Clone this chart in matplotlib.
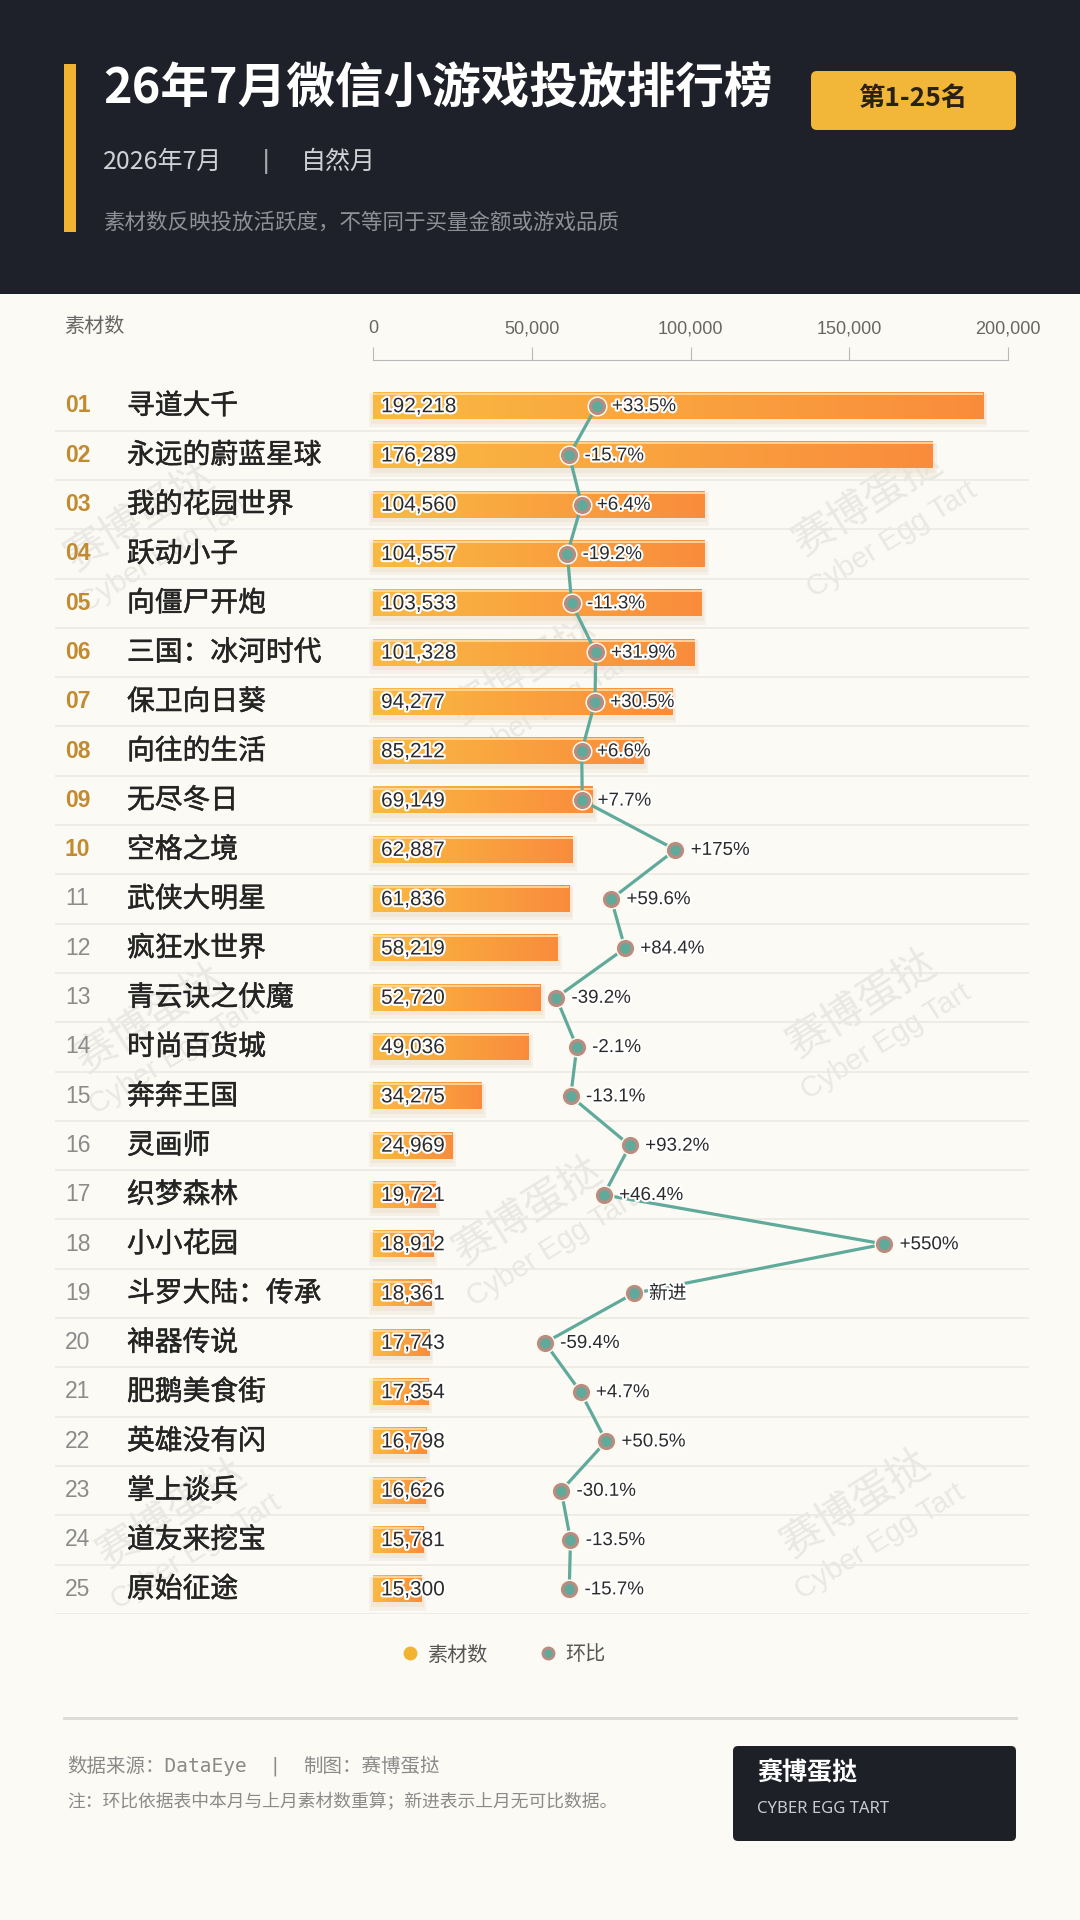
import numpy as np
import matplotlib
matplotlib.use("Agg")
import matplotlib.pyplot as plt
import matplotlib.patheffects as pe
from matplotlib.patches import Rectangle, FancyBboxPatch
from matplotlib.lines import Line2D
from matplotlib.colors import LinearSegmentedColormap
from matplotlib.transforms import blended_transform_factory

plt.rcParams["font.family"] = ["Noto Sans CJK SC", "DejaVu Sans"]

# ---------------------------------------------------------------- data
names = ["寻道大千", "永远的蔚蓝星球", "我的花园世界", "跃动小子", "向僵尸开炮",
         "三国：冰河时代", "保卫向日葵", "向往的生活", "无尽冬日", "空格之境",
         "武侠大明星", "疯狂水世界", "青云诀之伏魔", "时尚百货城", "奔奔王国",
         "灵画师", "织梦森林", "小小花园", "斗罗大陆：传承", "神器传说",
         "肥鹅美食街", "英雄没有闪", "掌上谈兵", "道友来挖宝", "原始征途"]
counts = [192218, 176289, 104560, 104557, 103533, 101328, 94277, 85212, 69149, 62887,
          61836, 58219, 52720, 49036, 34275, 24969, 19721, 18912, 18361, 17743,
          17354, 16798, 16626, 15781, 15300]
# month-over-month change in %, None = new entry
mom = [33.5, -15.7, 6.4, -19.2, -11.3, 31.9, 30.5, 6.6, 7.7, 175,
       59.6, 84.4, -39.2, -2.1, -13.1, 93.2, 46.4, 550, None, -59.4,
       4.7, 50.5, -30.1, -13.5, -15.7]
axis_ticks = [0, 50000, 100000, 150000, 200000]
NEW_POS = 100  # where a "新进" point sits on the change scale

title = "26年7月微信小游戏投放排行榜"
badge = "第1-25名"
period = "2026年7月"
period_type = "自然月"
note_top = "素材数反映投放活跃度，不等同于买量金额或游戏品质"
source = "数据来源：DataEye"
maker = "制图：赛博蛋挞"
note_bottom = "注：环比依据表中本月与上月素材数重算；新进表示上月无可比数据。"

# ---------------------------------------------------------------- colours
BG = "#fbfaf4"
DARK = "#1f212a"
GOLD = "#f0b432"
TEAL = "#60aa9b"
TAUPE = "#b88c80"
TEXT = "#242424"

W, H = 1080, 1920


def fx(px):
    return px / W


def fy(py):
    return 1 - py / H


def rect(x0, y0, x1, y1, color, r=0, z=-5):
    if r:
        p = FancyBboxPatch((fx(x0), fy(y1)), (x1 - x0) / W, (y1 - y0) / H,
                           boxstyle=f"round,pad=0,rounding_size={r / W}",
                           mutation_aspect=W / H, transform=fig.transFigure,
                           facecolor=color, edgecolor="none", zorder=z)
    else:
        p = Rectangle((fx(x0), fy(y1)), (x1 - x0) / W, (y1 - y0) / H,
                      transform=fig.transFigure, facecolor=color,
                      edgecolor="none", zorder=z)
    fig.patches.append(p)


fig = plt.figure(figsize=(W / 100, H / 100), dpi=100, facecolor=BG)

# ---------------------------------------------------------------- header
rect(0, 0, W, 294, DARK)
rect(64, 64, 76, 232, GOLD, z=-4)
fig.text(fx(103), fy(89), title, fontsize=35, weight="bold", color="white",
         va="center", ha="left")
rect(811, 71, 1016, 130, "#f2b739", r=6, z=-4)
fig.text(fx(913), fy(99), badge, fontsize=19, weight="bold", color="#2a2116",
         va="center", ha="center")
fig.text(fx(103), fy(162), period, fontsize=18, color="#d0d1d5", va="center")
fig.text(fx(262), fy(162), "|", fontsize=18, color="#a8a9ae", va="center",
         family="DejaVu Sans")
fig.text(fx(301), fy(162), period_type, fontsize=18, color="#d0d1d5", va="center")
fig.text(fx(103), fy(223), note_top, fontsize=15.5, color="#8e9097", va="center")

# ---------------------------------------------------------------- watermarks
wm_spots = [(140, 518), (868, 503), (525, 672), (150, 1020), (862, 1005),
            (528, 1212), (172, 1515), (856, 1505)]
for (wx, wy) in wm_spots:
    fig.text(fx(wx), fy(wy), "赛博蛋挞", fontsize=30, color="#eae8e2",
             rotation=32, rotation_mode="anchor", ha="center", va="center",
             zorder=-3)
    fig.text(fx(wx + 24), fy(wy + 37), "Cyber Egg Tart", fontsize=21,
             color="#eae8e2", rotation=32, rotation_mode="anchor",
             ha="center", va="center", family="Liberation Sans", zorder=-3)

# ---------------------------------------------------------------- main panel
n = len(names)
rows = np.arange(n)
ROW_PX, ROW0_PX = 49.3, 406
X0_PX, X200_PX = 373, 1008
AX_L, AX_R = 55, 1029
ax_top = ROW0_PX - ROW_PX / 2
ax_bot = ROW0_PX + (n - 0.5) * ROW_PX
ax = fig.add_axes([fx(AX_L), fy(ax_bot), (AX_R - AX_L) / W, (ax_bot - ax_top) / H])
per_px = axis_ticks[-1] / (X200_PX - X0_PX)
xlim = (-(X0_PX - AX_L) * per_px, (AX_R - X0_PX) * per_px)
ax.axis("off")

# change scale: 0 % at 578 px, 0.557 px per %
ZERO_PX, PX_PER_PCT = 578, 0.557
ax2 = ax.twiny()
ax2.set_xlim((AX_L - ZERO_PX) / PX_PER_PCT, (AX_R - ZERO_PX) / PX_PER_PCT)
ax2.axis("off")

tr = blended_transform_factory(fig.transFigure, ax.transData)

for i in rows:
    ax.axhline(i + 0.5, color="#ebe8e1", lw=1.1, zorder=0.5)

bh = 0.53
# soft shadow, two faint layers
cnt = np.array(counts)
ax.barh(rows + 0.09, cnt + 2600, left=-1300, height=bh + 0.16,
        color="#eee3d3", alpha=0.35, zorder=1)
ax.barh(rows + 0.06, cnt + 1200, left=-500, height=bh + 0.07,
        color="#eadcc6", alpha=0.4, zorder=1)
bar_cmap = LinearSegmentedColormap.from_list("bar", ["#f9ba42", "#fa8c3c"])
grad = np.linspace(0, 1, 256)[None, :]
for i, v in enumerate(counts):
    ax.imshow(grad, extent=(0, v, i + bh / 2, i - bh / 2), cmap=bar_cmap,
              aspect="auto", interpolation="bilinear", zorder=2)
ax.hlines(rows - bh / 2 + 0.025, 0, counts, colors="#ffd8a0", lw=1.3, zorder=3)
ax.set_xlim(*xlim)
ax.set_ylim(n - 0.5, -0.5)

halo = [pe.withStroke(linewidth=3, foreground="white")]
thick = [pe.withStroke(linewidth=0.35, foreground=TEXT)]
for i, (name, v) in enumerate(zip(names, counts)):
    top10 = i < 10
    ax.text(fx(65), i, f"{i + 1:02d}", transform=tr, fontsize=16.5,
            family="Liberation Sans", weight="bold" if top10 else "normal",
            color="#c38b2f" if top10 else "#8b8b8b", va="center", ha="left")
    ax.text(fx(127), i, name, transform=tr, fontsize=20, weight="medium",
            color=TEXT, va="center", ha="left", path_effects=thick)
    ax.annotate(f"{v:,}", (0, i), xytext=(5.8, -0.5), textcoords="offset points",
                ha="left", va="center", fontsize=15, family="Liberation Sans",
                color="#2b2b2b", path_effects=halo, zorder=4)

pos = [NEW_POS if m is None else m for m in mom]
ax2.plot(pos, rows, color=TEAL, lw=2.3, zorder=5, solid_capstyle="round")
ax2.plot(pos, rows, ls="", marker="o", ms=14.5, mfc="#fdf7ec", mec="none", zorder=6)
ax2.plot(pos, rows, ls="", marker="o", ms=10, mfc=TEAL, mec=TAUPE, mew=2.3, zorder=7)
for i, (p, m) in enumerate(zip(pos, mom)):
    if m is None:
        lbl = "新进"
    elif abs(m) >= 100:
        lbl = f"{m:+.0f}%"
    else:
        lbl = f"{m:+.1f}%"
    ax2.annotate(lbl, (p, i), xytext=(11, -0.5), textcoords="offset points",
                 ha="left", va="center", fontsize=13.5,
                 family=["Liberation Sans", "Noto Sans CJK SC"],
                 color="#2b2b2b", path_effects=halo, zorder=8)

# ---------------------------------------------------------------- top scale
axr = fig.add_axes([fx(X0_PX), fy(360), (X200_PX - X0_PX) / W, 13 / H])
axr.set_xlim(axis_ticks[0], axis_ticks[-1])
axr.set_ylim(0, 1)
axr.patch.set_visible(False)
for s in ("left", "right", "top"):
    axr.spines[s].set_visible(False)
axr.spines["bottom"].set_color("#b9b9b9")
axr.set_yticks([])
axr.set_xticks(axis_ticks)
axr.set_xticklabels([f"{t:,}" for t in axis_ticks])
axr.tick_params(axis="x", direction="in", length=9.4, color="#b9b9b9",
                bottom=True, top=False, labelbottom=False, labeltop=True,
                pad=7, labelsize=13, labelcolor="#666666")
for lab in axr.get_xticklabels():
    lab.set_family("Liberation Sans")
fig.text(fx(64), fy(326), "素材数", fontsize=14.5, color="#666666", va="center")

# ---------------------------------------------------------------- legend
handles = [Line2D([], [], ls="", marker="o", ms=10, mfc=GOLD, mec="none"),
           Line2D([], [], ls="", marker="o", ms=8, mfc=TEAL, mec=TAUPE, mew=2)]
fig.legend(handles, ["素材数", "环比"], loc="center",
           bbox_to_anchor=(fx(504), fy(1655)), ncol=2, frameon=False,
           fontsize=14.5, labelcolor="#555555", handlelength=0.8,
           handletextpad=0.45, columnspacing=2.6)

# ---------------------------------------------------------------- footer
fig.add_artist(Line2D([fx(64), fx(1016)], [fy(1718), fy(1718)],
                      transform=fig.transFigure, color="#dcdad4", lw=2))
mono = ["DejaVu Sans Mono", "Noto Sans CJK SC"]
fig.text(fx(67), fy(1766), source, fontsize=14, color="#8a8a8a", va="center",
         family=mono)
fig.text(fx(271), fy(1766), "|", fontsize=14, color="#8a8a8a", va="center",
         family="DejaVu Sans")
fig.text(fx(303), fy(1766), maker, fontsize=14, color="#8a8a8a", va="center")
fig.text(fx(67), fy(1802), note_bottom, fontsize=12.8, color="#8a8a8a", va="center")

rect(733, 1746, 1016, 1841, "#1e2028", r=5, z=-4)
fig.text(fx(757), fy(1773), "赛博蛋挞", fontsize=18, weight="bold", color="white",
         va="center")
fig.text(fx(757), fy(1809), "CYBER EGG TART", fontsize=12, color="#c9cbd1",
         va="center", family="Noto Sans")

fig.savefig("out.png", dpi=100, facecolor=BG)
